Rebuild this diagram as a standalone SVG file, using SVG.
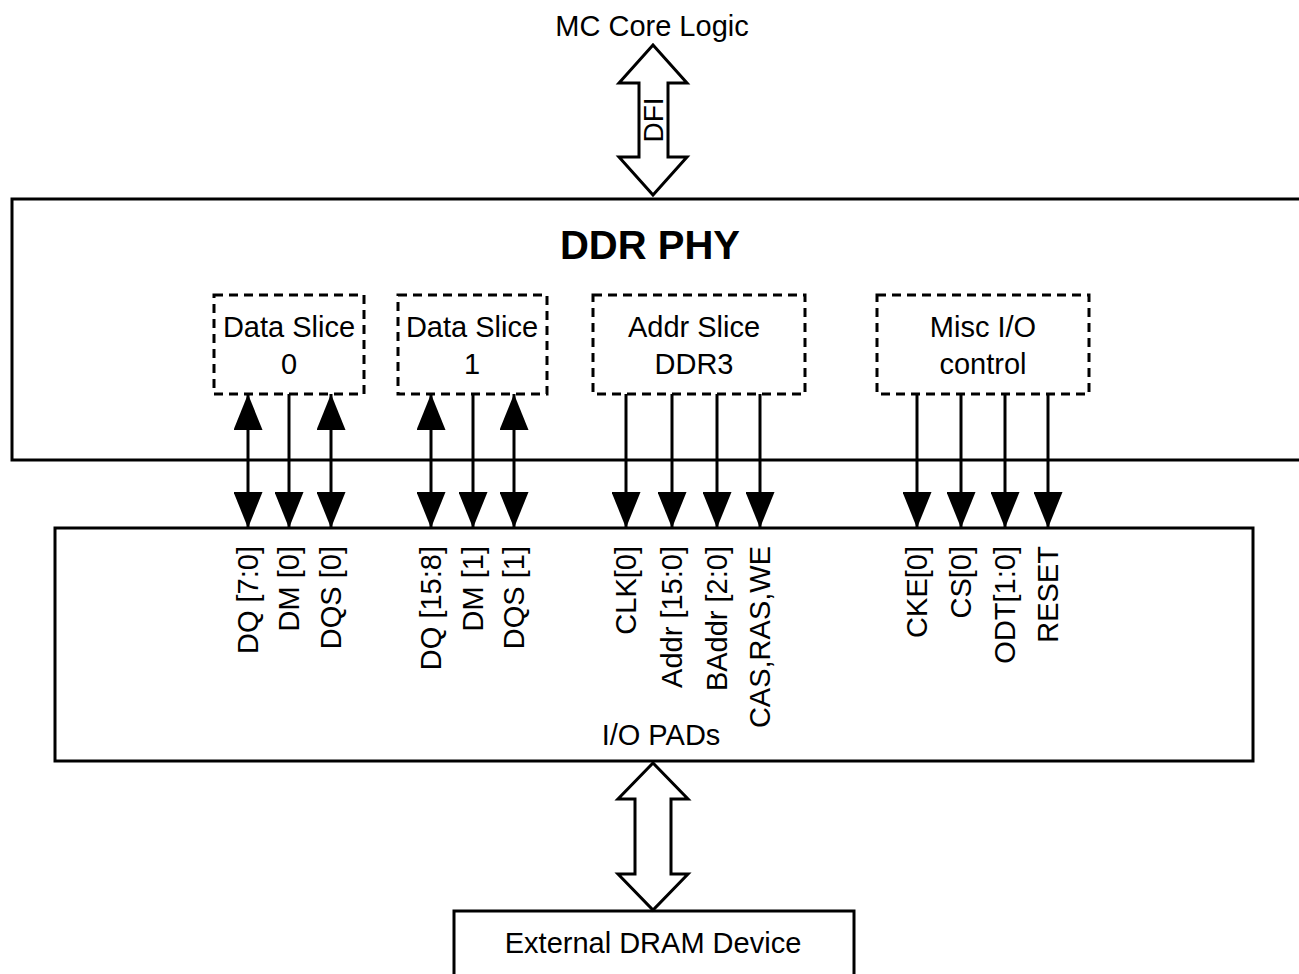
<svg xmlns="http://www.w3.org/2000/svg" width="1299" height="974" viewBox="0 0 1299 974">
<style>
text{font-family:"Liberation Sans",Arial,sans-serif;font-size:29px;fill:#000}
.box{fill:#fff;stroke:#000;stroke-width:3}
.dash{fill:none;stroke:#000;stroke-width:3;stroke-dasharray:9 6}
.ln{stroke:#000;stroke-width:3;fill:none}
.big{fill:#fff;stroke:#000;stroke-width:3;stroke-linejoin:miter}
.vl{text-anchor:end}
</style>
<defs>
<marker id="ah" viewBox="0 0 36 29" refX="36" refY="14.5" markerWidth="36" markerHeight="29" markerUnits="userSpaceOnUse" orient="auto-start-reverse">
<path d="M0,0 L36,14.5 L0,29 Z" fill="#000"/>
</marker>
</defs>
<rect width="1299" height="974" fill="#fff"/>
<g id="mc-core"><text x="652" y="36" text-anchor="middle">MC Core Logic</text></g>
<g id="ddr-phy">
<rect class="box" x="12" y="199" width="1310" height="261"/>
<text x="650" y="259" text-anchor="middle" style="font-size:40px;font-weight:bold">DDR PHY</text>
</g>
<g id="data-slice-0">
<rect class="dash" x="214" y="295" width="150" height="99"/>
<text x="289" y="337" text-anchor="middle">Data Slice</text>
<text x="289" y="374" text-anchor="middle">0</text>
</g>
<g id="data-slice-1">
<rect class="dash" x="398" y="295" width="149" height="99"/>
<text x="472" y="337" text-anchor="middle">Data Slice</text>
<text x="472" y="374" text-anchor="middle">1</text>
</g>
<g id="addr-slice">
<rect class="dash" x="593" y="295" width="212" height="99"/>
<text x="694" y="337" text-anchor="middle">Addr Slice</text>
<text x="694" y="374" text-anchor="middle">DDR3</text>
</g>
<g id="misc-io">
<rect class="dash" x="877" y="295" width="212" height="99"/>
<text x="983" y="337" text-anchor="middle">Misc I/O</text>
<text x="983" y="374" text-anchor="middle">control</text>
</g>
<g id="io-pads">
<rect class="box" x="55" y="528" width="1198" height="233"/>
<text x="661" y="745" text-anchor="middle">I/O PADs</text>
<g class="vl">
<text transform="translate(258,546) rotate(-90)">DQ [7:0]</text>
<text transform="translate(299,546) rotate(-90)">DM [0]</text>
<text transform="translate(341,546) rotate(-90)">DQS [0]</text>
<text transform="translate(441,546) rotate(-90)">DQ [15:8]</text>
<text transform="translate(483,546) rotate(-90)">DM [1]</text>
<text transform="translate(524,546) rotate(-90)">DQS [1]</text>
<text transform="translate(636,546) rotate(-90)">CLK[0]</text>
<text transform="translate(682,546) rotate(-90)">Addr [15:0]</text>
<text transform="translate(727,546) rotate(-90)">BAddr [2:0]</text>
<text transform="translate(770,546) rotate(-90)">CAS,RAS,WE</text>
<text transform="translate(927,546) rotate(-90)">CKE[0]</text>
<text transform="translate(971,546) rotate(-90)">CS[0]</text>
<text transform="translate(1015,546) rotate(-90)">ODT[1:0]</text>
<text transform="translate(1058,546) rotate(-90)">RESET</text>
</g>
</g>
<g id="external-dram">
<rect class="box" x="454" y="911" width="400" height="80"/>
<text x="653" y="953" text-anchor="middle">External DRAM Device</text>
</g>
<g id="connectors">
<path class="big" d="M653,45 L687,83 L668,83 L668,157 L687,157 L653,195 L619,157 L639,157 L639,83 L619,83 Z"/>
<text transform="translate(663,120) rotate(-90)" text-anchor="middle" style="font-size:28px">DFI</text>
<path class="big" d="M653,763 L688,799 L671,799 L671,874 L688,874 L653,910 L618,874 L635,874 L635,799 L618,799 Z"/>
<g class="ln">
<line x1="248" y1="394" x2="248" y2="528" marker-start="url(#ah)" marker-end="url(#ah)"/>
<line x1="289" y1="394" x2="289" y2="528" marker-end="url(#ah)"/>
<line x1="331" y1="394" x2="331" y2="528" marker-start="url(#ah)" marker-end="url(#ah)"/>
<line x1="431" y1="394" x2="431" y2="528" marker-start="url(#ah)" marker-end="url(#ah)"/>
<line x1="473" y1="394" x2="473" y2="528" marker-end="url(#ah)"/>
<line x1="514" y1="394" x2="514" y2="528" marker-start="url(#ah)" marker-end="url(#ah)"/>
<line x1="626" y1="394" x2="626" y2="528" marker-end="url(#ah)"/>
<line x1="672" y1="394" x2="672" y2="528" marker-end="url(#ah)"/>
<line x1="717" y1="394" x2="717" y2="528" marker-end="url(#ah)"/>
<line x1="760" y1="394" x2="760" y2="528" marker-end="url(#ah)"/>
<line x1="917" y1="394" x2="917" y2="528" marker-end="url(#ah)"/>
<line x1="961" y1="394" x2="961" y2="528" marker-end="url(#ah)"/>
<line x1="1005" y1="394" x2="1005" y2="528" marker-end="url(#ah)"/>
<line x1="1048" y1="394" x2="1048" y2="528" marker-end="url(#ah)"/>
</g>
</g>
</svg>
